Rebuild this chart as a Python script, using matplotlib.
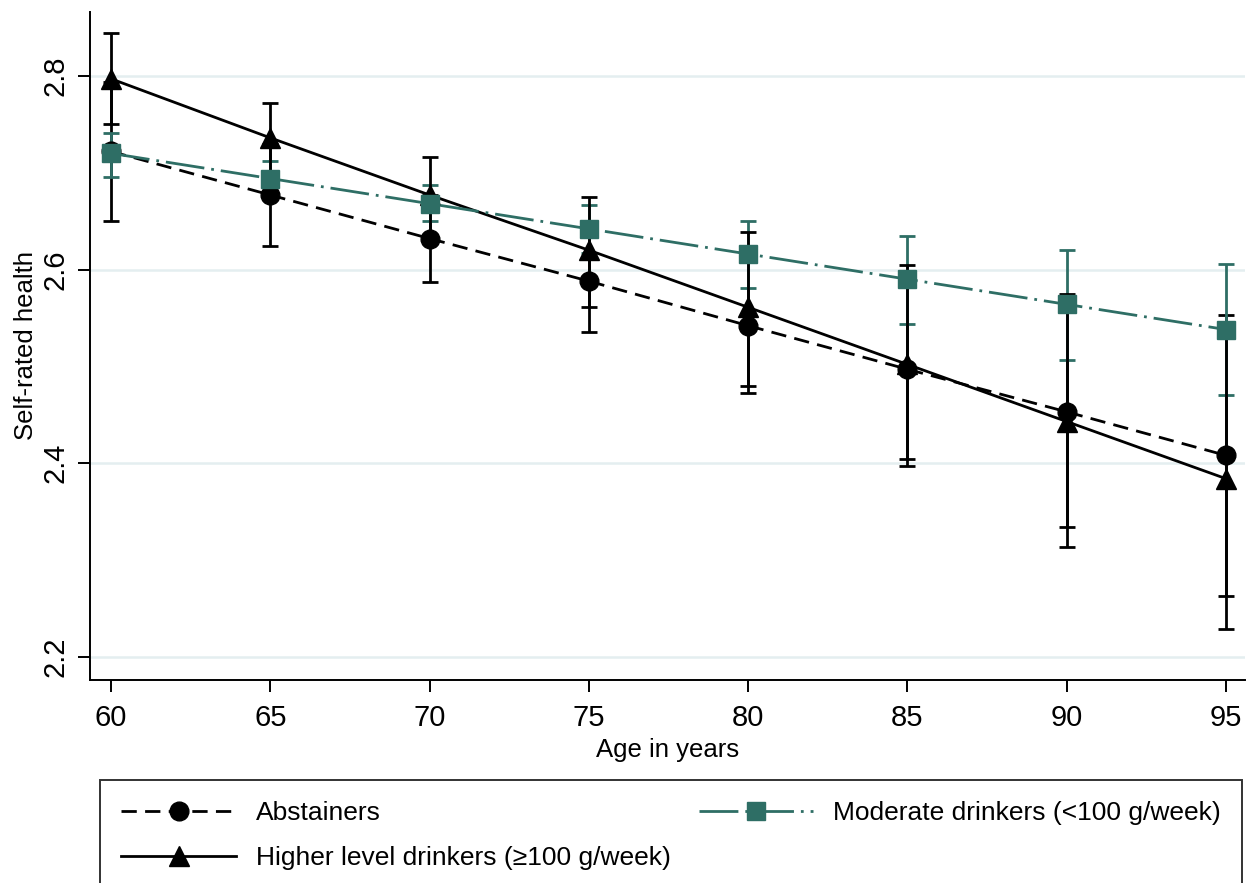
import numpy as np
import matplotlib.pyplot as plt
from matplotlib.lines import Line2D

plt.rcParams['font.family'] = ['Liberation Sans', 'DejaVu Sans']

ages = [60, 65, 70, 75, 80, 85, 90, 95]

# Abstainers
abst = [2.722, 2.677, 2.632, 2.588, 2.542, 2.497, 2.453, 2.408]
abst_lo = [2.650, 2.624, 2.587, 2.535, 2.472, 2.404, 2.334, 2.263]
abst_hi = [2.794, 2.730, 2.677, 2.641, 2.614, 2.590, 2.572, 2.553]

# Moderate drinkers (<100 g/week)
mod = [2.720, 2.694, 2.668, 2.642, 2.616, 2.590, 2.564, 2.538]
mod_lo = [2.696, 2.677, 2.650, 2.617, 2.581, 2.544, 2.507, 2.470]
mod_hi = [2.741, 2.712, 2.687, 2.667, 2.650, 2.635, 2.620, 2.606]

# Higher level drinkers (>=100 g/week)
high = [2.797, 2.736, 2.677, 2.620, 2.561, 2.502, 2.443, 2.384]
high_lo = [2.750, 2.700, 2.636, 2.561, 2.480, 2.397, 2.313, 2.229]
high_hi = [2.844, 2.772, 2.716, 2.675, 2.639, 2.605, 2.575, 2.539]

teal = '#2E6E65'
yticks = [2.2, 2.4, 2.6, 2.8]
xticks = ages

dash_abst = (0, (5.5, 3))
dash_mod = (0, (14, 2.5, 1, 2.5))

fig = plt.figure(figsize=(12.47, 8.83), dpi=100)
ax = fig.add_axes([90 / 1247, 1 - 680 / 883, 1155 / 1247, 668 / 883])

for y in yticks:
    ax.axhline(y, color='#e4eef0', lw=1.8, zorder=0)

def err(vals, lo, hi, color):
    v = np.array(vals)
    yerr = [v - np.array(lo), np.array(hi) - v]
    ax.errorbar(ages, vals, yerr=yerr, fmt='none', ecolor=color,
                elinewidth=2.0, capsize=6, capthick=2.0, zorder=2)

err(abst, abst_lo, abst_hi, 'black')
err(mod, mod_lo, mod_hi, teal)
err(high, high_lo, high_hi, 'black')

ax.plot(ages, abst, color='black', lw=2.0, ls=dash_abst,
        marker='o', ms=13.5, zorder=3)
ax.plot(ages, mod, color=teal, lw=2.0, ls=dash_mod,
        marker='s', ms=13, zorder=4)
ax.plot(ages, high, color='black', lw=2.0, ls='-',
        marker='^', ms=14.5, zorder=3)

ax.set_xlim(59.34, 95.6)
ax.set_ylim(2.176, 2.866)
ax.set_xticks(xticks)
ax.set_yticks(yticks)
ax.set_yticklabels(['2.2', '2.4', '2.6', '2.8'], rotation=90, va='center')
ax.tick_params(axis='both', labelsize=21, length=8.5, width=1.4, direction='out')
ax.tick_params(axis='x', pad=9)
ax.tick_params(axis='y', pad=6)
ax.spines['top'].set_visible(False)
ax.spines['right'].set_visible(False)
ax.spines['left'].set_linewidth(1.4)
ax.spines['bottom'].set_linewidth(1.4)
ax.set_xlabel('Age in years', fontsize=18.5, labelpad=4)
ax.set_ylabel('Self-rated health', fontsize=18.5, labelpad=3)

handles = [
    Line2D([], [], color='black', lw=2.0, ls=dash_abst, marker='o', ms=13.5),
    Line2D([], [], color='black', lw=2.0, ls='-', marker='^', ms=14.5),
    Line2D([], [], color=teal, lw=2.0, ls=dash_mod, marker='s', ms=13),
]
labels = ['Abstainers', 'Higher level drinkers (\u2265100 g/week)',
          'Moderate drinkers (<100 g/week)']
top = 1 - 780 / 883
leg = fig.legend(handles, labels, ncol=2, mode='expand', fontsize=19,
                 loc='upper left',
                 bbox_to_anchor=(100 / 1247, -0.1, 1142 / 1247, top + 0.1),
                 frameon=True, fancybox=False, edgecolor='black',
                 handlelength=4.35, borderaxespad=0, borderpad=0.8,
                 labelspacing=0.8, handletextpad=0.75)
leg.get_frame().set_linewidth(1.4)

fig.savefig('out.png', dpi=100)
